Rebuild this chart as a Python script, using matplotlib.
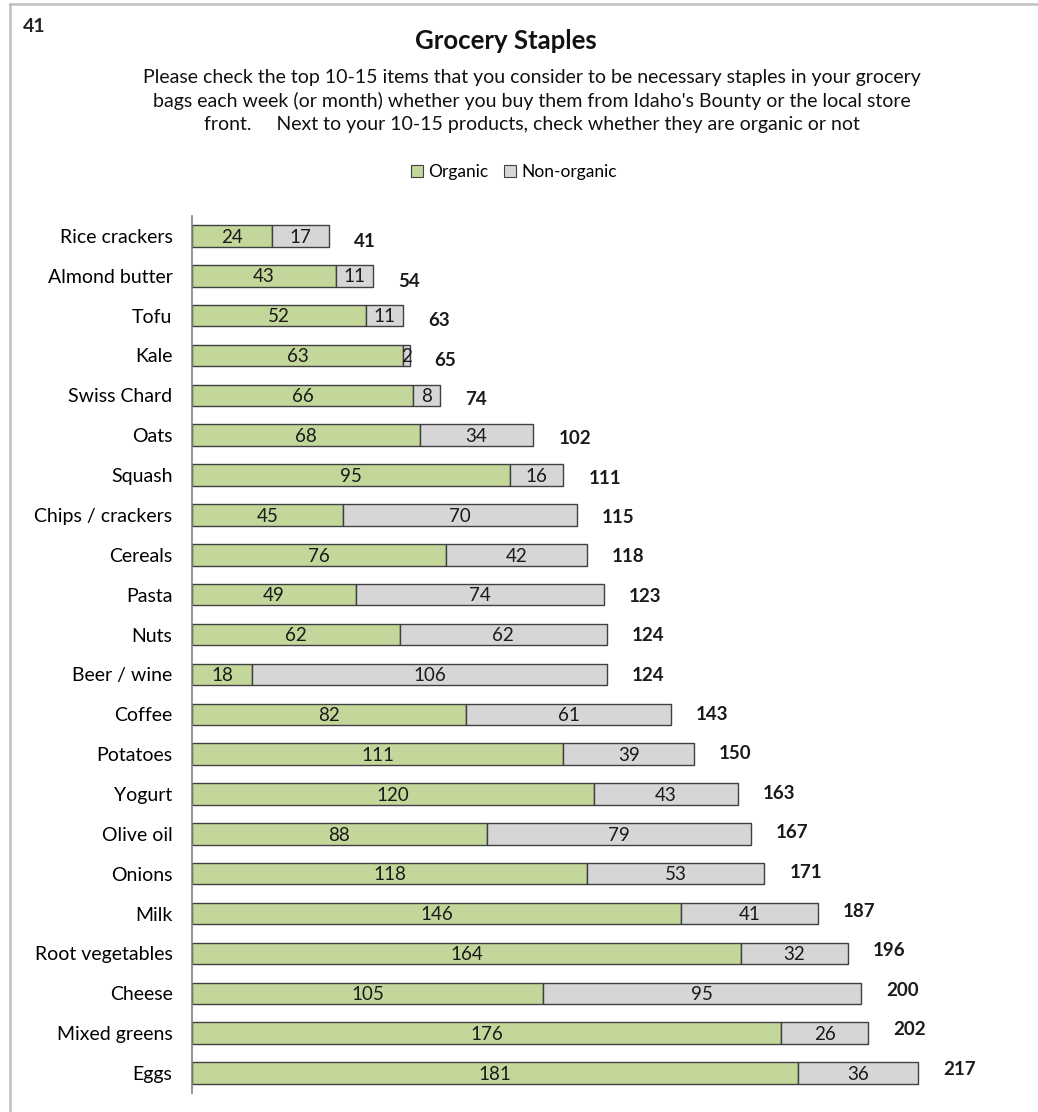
import matplotlib
matplotlib.use("Agg")
import matplotlib.pyplot as plt
from matplotlib.patches import Patch
from matplotlib.lines import Line2D
import numpy as np

categories = ["Rice crackers", "Almond butter", "Tofu", "Kale", "Swiss Chard", "Oats",
              "Squash", "Chips / crackers", "Cereals", "Pasta", "Nuts", "Beer / wine",
              "Coffee", "Potatoes", "Yogurt", "Olive oil", "Onions", "Milk",
              "Root vegetables", "Cheese", "Mixed greens", "Eggs"]
organic = [24, 43, 52, 63, 66, 68, 95, 45, 76, 49, 62, 18, 82, 111, 120, 88, 118, 146, 164, 105, 176, 181]
non_organic = [17, 11, 11, 2, 8, 34, 16, 70, 42, 74, 62, 106, 61, 39, 43, 79, 53, 41, 32, 95, 26, 36]
totals = [41, 54, 63, 65, 74, 102, 111, 115, 118, 123, 124, 124, 143, 150, 163, 167, 171, 187, 196, 200, 202, 217]
series_names = ["Organic", "Non-organic"]

FONT = "Lato"
plt.rcParams['font.family'] = [FONT, 'DejaVu Sans']

GREEN = "#C4D79B"
GRAY = "#D6D6D6"
EDGE = "#404040"

fig = plt.figure(figsize=(10.38, 11.12), dpi=100)
ax = fig.add_axes([0.185, 0.0171, 0.806, 0.7887])

y = np.arange(len(categories))
h = 0.54
ax.barh(y, organic, height=h, color=GREEN, edgecolor=EDGE, linewidth=1.0)
ax.barh(y, non_organic, left=organic, height=h, color=GRAY, edgecolor=EDGE, linewidth=1.0)

for i in range(len(categories)):
    ax.text(organic[i] / 2, y[i] + 0.03, str(organic[i]), ha="center", va="center", fontsize=13.5, color="#1a1a1a")
    ax.text(organic[i] + non_organic[i] / 2, y[i] + 0.03, str(non_organic[i]), ha="center", va="center",
            fontsize=13.5, color="#1a1a1a")
    dy = 0.15 - 0.25 * i / (len(categories) - 1)
    ax.text(totals[i] + 7.5, y[i] + dy, str(totals[i]), ha="left", va="center", fontsize=13.5,
            fontweight="bold", color="#1a1a1a")

ax.set_xlim(0, 250)
ax.set_ylim(len(categories) - 0.5, -0.5)
ax.set_yticks(y)
ax.set_yticklabels(categories, fontsize=14)
ax.tick_params(axis="y", length=0, pad=14)
ax.set_xticks([])
for s in ["top", "right", "bottom"]:
    ax.spines[s].set_visible(False)
ax.spines["left"].set_color("#808080")
ax.spines["left"].set_linewidth(1.2)

# frame
fig.add_artist(Line2D([10 / 1038, 1.0], [1 - 4 / 1112, 1 - 4 / 1112], color="#C0C0C0", linewidth=1.8))
fig.add_artist(Line2D([10 / 1038, 10 / 1038], [0, 1 - 4 / 1112], color="#C0C0C0", linewidth=1.8))

fig.text(23 / 1038, 1 - 27 / 1112, "41", fontsize=14, fontweight="bold", color="#222222", va="center")
fig.text(506 / 1038, 1 - 41 / 1112, "Grocery Staples", fontsize=18.5, fontweight="bold",
         ha="center", va="center", color="#111111")
sub = ("Please check the top 10-15 items that you consider to be necessary staples in your grocery\n"
       "bags each week (or month) whether you buy them from Idaho's Bounty or the local store\n"
       "front.     Next to your 10-15 products, check whether they are organic or not")
fig.text(532 / 1038, 1 - 101 / 1112, sub, fontsize=14, ha="center", va="center",
         linespacing=1.4, color="#111111")

handles = [Patch(facecolor=GREEN, edgecolor=EDGE, linewidth=0.8),
           Patch(facecolor=GRAY, edgecolor=EDGE, linewidth=0.8)]
fig.legend(handles, series_names, loc="center", bbox_to_anchor=(514 / 1038, 1 - 172 / 1112),
           ncol=2, frameon=False, fontsize=12.5, handlelength=0.7, handleheight=0.7,
           handletextpad=0.3, columnspacing=0.9)

fig.savefig("out.png", dpi=100)
